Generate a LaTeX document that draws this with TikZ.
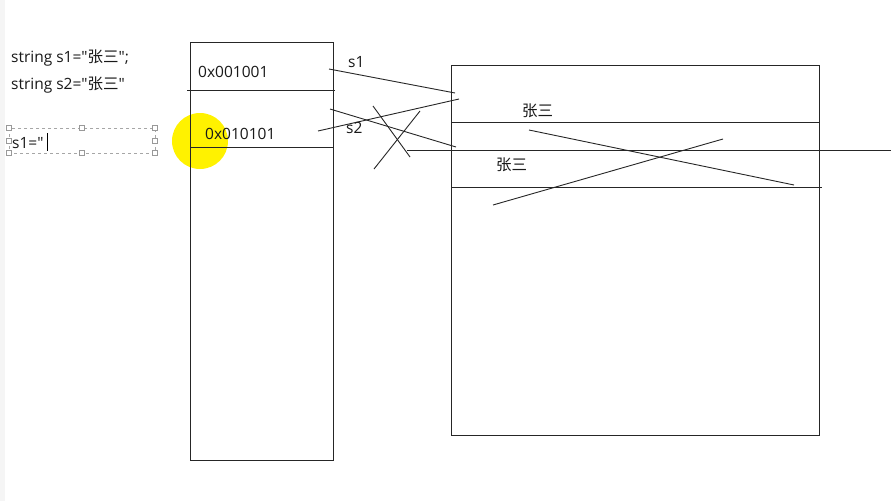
\documentclass[tikz,border=0pt]{standalone}
\usepackage{fontspec}
\setmainfont{Open Sans}[Ligatures=TeXOff]
\newfontfamily\cjk{Noto Sans CJK SC}
\usepackage{tikz}

\tikzset{
  stroke/.style={line width=0.9pt, black!85},
  txt/.style={anchor=west, inner sep=0pt, font=\fontsize{15.5pt}{17pt}\selectfont, text=black!90},
  handle/.style={draw=gray!80, fill=white, line width=0.5pt, minimum size=5pt, inner sep=0pt}
}

\begin{document}
\begin{tikzpicture}[x=1pt, y=-1pt]
  \useasboundingbox[fill=white] (0,0) rectangle (891,501);
  \fill[gray!8] (0,0) rectangle (5,501);
  % highlight
  \fill[yellow] (200,141) circle (28);
  % code on the left
  \node[txt] (code1) at (11,58) {string s1="{\cjk 张三}";};
  \node[txt] (code2) at (11,85) {string s2="{\cjk 张三}"};
  \draw[gray!70, dashed, line width=0.5pt] (9,128) rectangle (155,153);
  \foreach \hx in {9,82,155}
    \foreach \hy in {128,153}
      \node[handle] at (\hx,\hy) {};
  \node[handle] at (9,141) {};
  \node[handle] at (155,141) {};
  \node[txt] (edit) at (12,143) {s1="};
  \draw[black, line width=0.8pt] (47,133) -- (47,151);
  % stack
  \draw[stroke] (190,42) rectangle (333,460);
  \draw[stroke] (187,90) -- (335,90);
  \draw[stroke] (190,147) -- (333,147);
  \node[txt] (addr1) at (198,72) {0x001001};
  \node[txt] (addr2) at (205,134) {0x010101};
  % heap
  \draw[stroke] (451,65) rectangle (819,435);
  \draw[stroke] (451,122) -- (819,122);
  \draw[stroke] (407,150) -- (891,150);
  \draw[stroke] (451,187) -- (822,187);
  \node[txt] (val1) at (522,111) {\cjk 张三};
  \node[txt] (val2) at (496,165) {\cjk 张三};
  \draw[stroke] (529,130) -- (794,185);
  \draw[stroke] (493,205) -- (723,139);
  % references
  \draw[stroke] (329,69) -- (455,93);
  \node[txt] (ref1) at (348,62) {s1};
  \draw[stroke] (318,131) -- (459,99);
  \draw[stroke] (330,109) -- (456,147);
  \node[txt] (ref2) at (346,128) {s2};
  \draw[stroke] (373,106) -- (410,157);
  \draw[stroke] (374,169) -- (420,111);
\end{tikzpicture}
\end{document}
